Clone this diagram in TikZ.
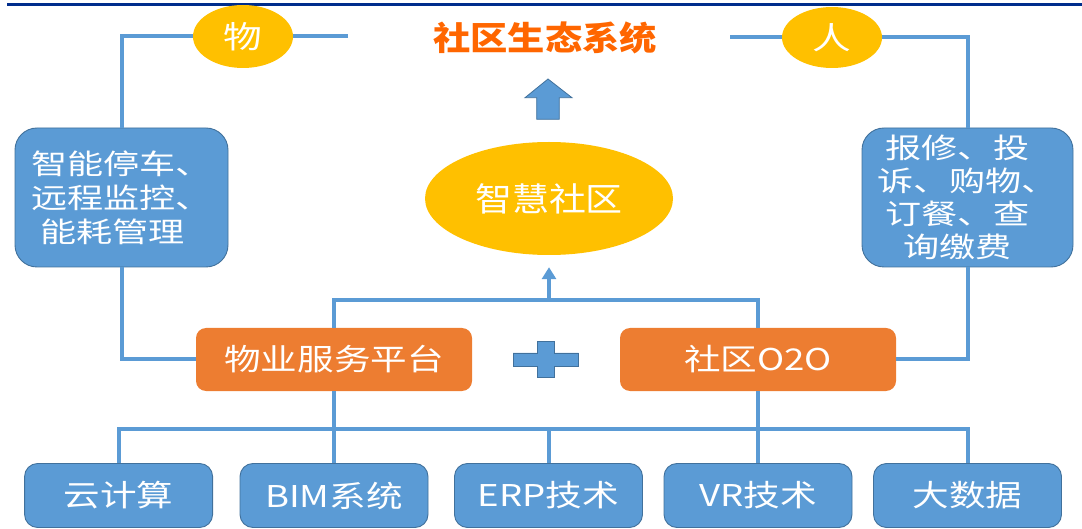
\documentclass[tikz,border=0pt]{standalone}
\usepackage{fontspec}
\setmainfont{Noto Sans CJK SC}
\usetikzlibrary{shapes.geometric,arrows.meta}
\definecolor{boxblue}{RGB}{91,155,213}
\definecolor{edgeblue}{RGB}{65,113,156}
\definecolor{boxorange}{RGB}{237,125,49}
\definecolor{gold}{RGB}{255,192,0}
\definecolor{titleorange}{RGB}{255,102,0}
\definecolor{navy}{RGB}{0,45,140}
% size, line pitch, horizontal stretch of the CJK sans
\newcommand\cjkfont[3]{\fontsize{#1}{#2}\selectfont\addfontfeature{FakeStretch=#3}}
\begin{document}
\begin{tikzpicture}[x=1pt,y=-1pt,
  link/.style={draw=boxblue, line width=4pt},
  bluebox/.style={draw=edgeblue, fill=boxblue, line width=0.9pt, text=white, inner sep=0pt},
  sidebox/.style={bluebox, rounded corners=22pt, minimum height=139pt, align=left},
  techbox/.style={bluebox, rounded corners=13pt, minimum width=188pt, minimum height=64pt,
    font=\cjkfont{30}{36}{1.22}},
  orangebox/.style={fill=boxorange, rounded corners=10pt, text=white, inner sep=0pt,
    minimum width=276pt, minimum height=63pt, font=\cjkfont{30}{36}{1.22}},
  goldoval/.style={ellipse, fill=gold, text=white, inner sep=0pt},
]
\useasboundingbox (0,0) rectangle (1082,529);

% header rule
\draw[navy, line width=2.5pt] (7,4.5) -- (1082,4.5);

% title row
\node[goldoval, minimum width=100pt, minimum height=63pt, font=\cjkfont{31}{36}{1.25}] (wu) at (243,36.5) {物};
\node[goldoval, minimum width=100pt, minimum height=61pt, font=\cjkfont{31}{36}{1.25}] (ren) at (832,37.5) {人};
\node[text=titleorange, font={\bfseries\cjkfont{33}{40}{1.13}}] (eco) at (545,37.5) {社区生态系统};
\coordinate (wuend) at (348,36.5);
\coordinate (renend) at (730,37.5);

% side service boxes
\node[sidebox, minimum width=213pt, font=\cjkfont{28}{34}{1.29}] (left) at (121.5,197.5)
  {智能停车、\\远程监控、\\\hspace*{9pt}能耗管理};
\node[sidebox, minimum width=211pt, font=\cjkfont{28}{33}{1.29}] (right) at (967.5,197.5)
  {\hspace*{8pt}报修、投\\诉、购物、\\\hspace*{8pt}订餐、查\\\hspace*{26pt}询缴费};

% central goal
\node[goldoval, minimum width=248pt, minimum height=113pt, font=\cjkfont{33}{40}{1.12}] (smart) at (549,198.5) {智慧社区};

% block arrow up to the ecosystem
\draw[edgeblue, fill=boxblue, line width=0.8pt]
  (548,79) -- (572,97.7) -- (559.3,97.7) -- (559.3,119.3) -- (536.7,119.3)
  -- (536.7,97.7) -- (525,97.7) -- cycle;

% platforms
\node[orangebox] (pm) at (334,359.5) {物业服务平台};
\node[orangebox] (o2o) at (758,359.5) {社区O2O};

% plus sign
\draw[edgeblue, fill=boxblue, line width=0.8pt]
  (537,341.7) -- (554,341.7) -- (554,353) -- (578.5,353) -- (578.5,366) -- (554,366)
  -- (554,377.7) -- (537,377.7) -- (537,366) -- (513,366) -- (513,353) -- (537,353) -- cycle;

% technologies
\node[techbox] (t1) at (118.6,495.5) {云计算};
\node[techbox] (t2) at (334,495.5) {BIM系统};
\node[techbox] (t3) at (548.5,495.5) {ERP技术};
\node[techbox] (t4) at (758,495.5) {VR技术};
\node[techbox] (t5) at (967.5,495.5) {大数据};

% connectors
\draw[link] (wuend) -- (wu.east);
\draw[link] (wu.west) -| (left.north);
\draw[link] (renend) -- (ren.west);
\draw[link] (ren.east) -| (right.north);
\draw[link] (left.south) |- (pm.west);
\draw[link] (right.south) |- (o2o.east);
\draw[link] (pm.north) -- ++(0,-28) coordinate (hubL) -| (o2o.north);
\coordinate (hub) at (549,300);
\draw[draw=boxblue, line width=4.5pt, -{Triangle[width=14pt,length=12pt]}, shorten >=12pt]
  (hub) -- (smart.south);
\draw[link] (pm.south) -- (t2.north);
\draw[link] (o2o.south) -- (t4.north);
\draw[link] (t1.north) -- ++(0,-34) coordinate (bus) -| (t5.north);
\draw[link] (t3.north) -- (t3.north |- bus);
\end{tikzpicture}
\end{document}
